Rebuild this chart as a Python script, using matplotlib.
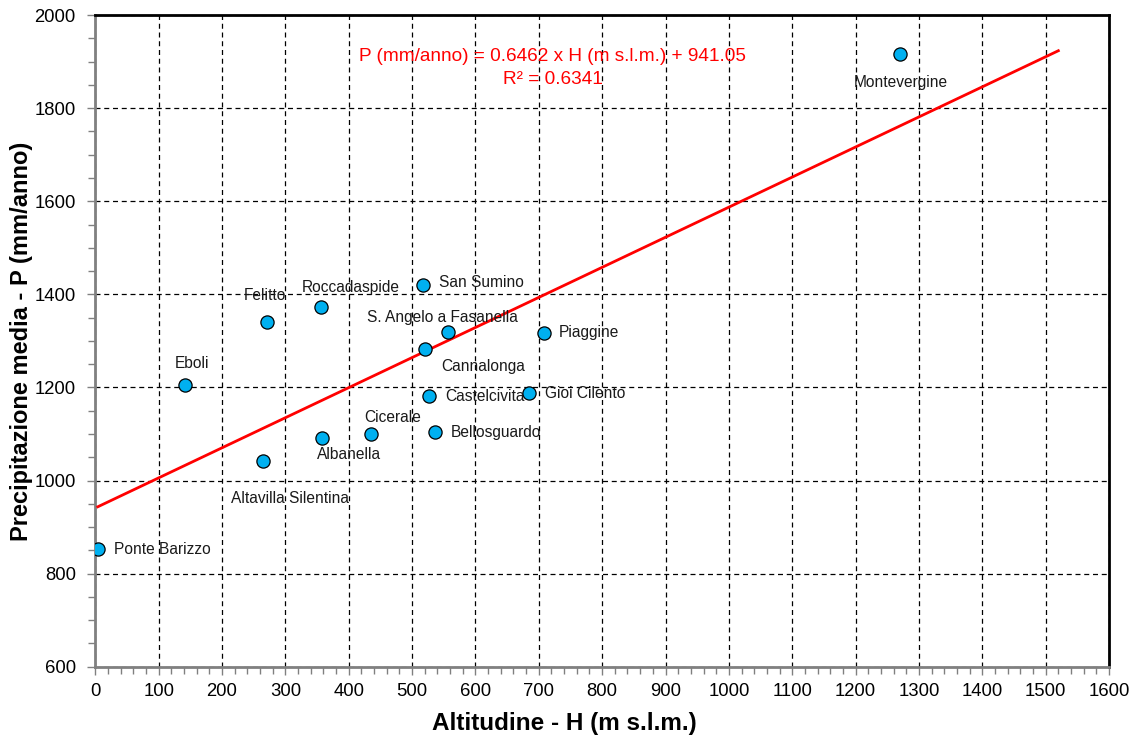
import numpy as np
import matplotlib
matplotlib.use("Agg")
import matplotlib.pyplot as plt
from matplotlib.ticker import MultipleLocator

plt.rcParams['font.family'] = ['Liberation Sans', 'DejaVu Sans']

# stations: altitude H (m s.l.m.) and mean precipitation P (mm/anno)
stations = ["Ponte Barizzo", "Eboli", "Felitto", "Roccadaspide", "Altavilla Silentina",
            "Albanella", "Cicerale", "San Sumino", "S. Angelo a Fasanella", "Cannalonga",
            "Piaggine", "Castelcivita", "Gioi Cilento", "Bellosguardo", "Montevergine"]
altitude = [4, 142, 271, 356, 264, 358, 435, 518, 557, 520, 709, 527, 685, 536, 1270]
precip = [852, 1205, 1341, 1372, 1043, 1092, 1101, 1420, 1320, 1282, 1318, 1182, 1189, 1105, 1916]

# linear trend given on the chart
slope = 0.6462
intercept = 941.05
r2 = 0.6341
trend_range = [4, 1520]

# label offsets in pixels (dx, dy) and horizontal alignment
label_offsets = [(16, 0, 'left'), (7, 22, 'center'), (-2, 26, 'center'), (30, 20, 'center'),
                 (27, -38, 'center'), (27, -17, 'center'), (22, 16, 'center'), (16, 3, 'left'),
                 (-6, 14, 'center'), (58, -17, 'center'), (14, 0, 'left'), (16, -1, 'left'),
                 (16, -1, 'left'), (16, -1, 'left'), (1, -28, 'center')]

fig = plt.figure(figsize=(11.37, 7.40), dpi=100)
ax = fig.add_axes([0.0838, 0.099, 0.8916, 0.8807])

ax.set_xlim(0, 1600)
ax.set_ylim(600, 2000)
ax.xaxis.set_major_locator(MultipleLocator(100))
ax.xaxis.set_minor_locator(MultipleLocator(20))
ax.yaxis.set_major_locator(MultipleLocator(200))
ax.yaxis.set_minor_locator(MultipleLocator(50))

ax.grid(which='major', color='black', linestyle=(0, (4, 3)), linewidth=0.9)
ax.set_axisbelow(True)

th = np.array(trend_range)
ax.plot(th, slope * th + intercept, color='#ff0000', linewidth=2.0, zorder=3)

ax.plot(altitude, precip, 'o', markersize=9.5, markerfacecolor='#00b0f0',
        markeredgecolor='black', markeredgewidth=0.9, zorder=4)

for name, h, p, (dx, dy, ha) in zip(stations, altitude, precip, label_offsets):
    ax.annotate(name, (h, p), xytext=(dx, dy), textcoords='offset pixels',
                ha=ha, va='center', fontsize=11.2, color='#1a1a1a', zorder=5)

ax.text(0.4513, 0.919, "P (mm/anno) = {} x H (m s.l.m.) + {}\nR\u00b2 = {}".format(slope, intercept, r2),
        transform=ax.transAxes, ha='center', va='center', color='#ff0000',
        fontsize=13.7, linespacing=1.45)

for side in ['left', 'bottom']:
    ax.spines[side].set_color('#808080')
    ax.spines[side].set_linewidth(2.0)
for side in ['top', 'right']:
    ax.spines[side].set_color('black')
    ax.spines[side].set_linewidth(2.0)

ax.tick_params(which='both', direction='out', color='#808080', width=1.0)
ax.tick_params(which='major', length=6, labelsize=13.3)
ax.tick_params(which='minor', length=5)
ax.tick_params(axis='x', pad=6)
ax.tick_params(axis='y', pad=8)

ax.set_xlabel("Altitudine - H (m s.l.m.)", fontsize=17.5, fontweight='bold')
ax.set_ylabel("Precipitazione media - P (mm/anno)", fontsize=17, fontweight='bold')
ax.xaxis.set_label_coords(0.463, -0.07)
ax.yaxis.set_label_coords(-0.061, 0.5)

fig.savefig("out.png", dpi=100)
